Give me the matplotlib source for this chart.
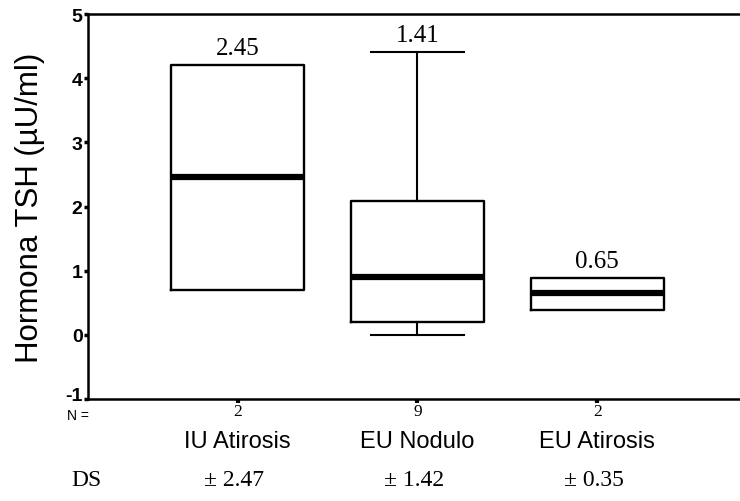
import matplotlib
matplotlib.use("Agg")
import matplotlib.pyplot as plt
from matplotlib.transforms import ScaledTranslation

categories = ["IU Atirosis", "EU Nodulo", "EU Atirosis"]
n_values = [2, 9, 2]
medians = [2.46, 0.90, 0.65]
q1 = [0.70, 0.20, 0.39]
q3 = [4.21, 2.09, 0.89]
whisker_low = [0.70, 0.00, 0.39]
whisker_high = [4.21, 4.41, 0.89]
mean_labels = ["2.45", "1.41", "0.65"]
sd_labels = ["2.47", "1.42", "0.35"]
yticks = [-1, 0, 1, 2, 3, 4, 5]

positions = [1, 2, 3]

fig = plt.figure(figsize=(7.4, 5.02), dpi=100)
ax = fig.add_axes([0.119, 0.203, 0.881, 0.767])

stats = []
for i in range(len(categories)):
    stats.append(dict(med=medians[i], q1=q1[i], q3=q3[i],
                      whislo=whisker_low[i], whishi=whisker_high[i],
                      label=categories[i]))

bp = ax.bxp(stats, positions=positions, widths=0.74, showfliers=False,
            patch_artist=False, capwidths=0.52,
            boxprops=dict(color="black", linewidth=1.7),
            medianprops=dict(color="black", linewidth=4.5, solid_capstyle="butt"),
            whiskerprops=dict(color="black", linewidth=1.5),
            capprops=dict(color="black", linewidth=1.5))

# hide caps/whiskers that coincide with the box (n = 2 groups)
for i in range(len(categories)):
    for j, (lo_or_hi, edge) in enumerate([(whisker_low[i], q1[i]), (whisker_high[i], q3[i])]):
        if lo_or_hi == edge:
            bp["caps"][2 * i + j].set_visible(False)
            bp["whiskers"][2 * i + j].set_visible(False)

# mean labels above the highest element
for i in range(len(categories)):
    top = max(q3[i], whisker_high[i])
    ax.annotate(mean_labels[i], (positions[i], top), xytext=(0, 4),
                textcoords="offset points", ha="center", va="bottom",
                fontsize=18, family="Liberation Serif")

ax.set_xlim(0.169, 3.794)
ax.set_ylim(-1, 5)
ax.set_yticks(yticks)
ax.set_yticklabels([str(t) for t in yticks], fontsize=14, fontweight="bold",
                   family="Liberation Sans")
ax.tick_params(axis="y", length=3, width=2.5, pad=1, direction="out")
# lift the lowest tick label slightly, as in the original
low_label = ax.get_yticklabels()[0]
low_label.set_transform(low_label.get_transform() +
                        ScaledTranslation(0, 4 / 72, fig.dpi_scale_trans))
ax.set_xticks(positions)
ax.set_xticklabels([str(n) for n in n_values], fontsize=12.5, family="Liberation Serif")
ax.tick_params(axis="x", length=3, width=3, pad=0, direction="out")

ax.spines["right"].set_visible(False)
for s in ["left", "bottom", "top"]:
    ax.spines[s].set_linewidth(1.8)

ax.set_ylabel("Hormona TSH (µU/ml)", fontsize=22.5, family="Liberation Sans")
ax.yaxis.set_label_coords(-0.066, 0.5)

trans = ax.get_xaxis_transform()
ax.text(-0.032, -0.024, "N =", transform=ax.transAxes, ha="left", va="top",
        fontsize=10, family="Liberation Sans")
for i in range(len(categories)):
    ax.text(positions[i], -0.11, categories[i], transform=trans, ha="center",
            va="center", fontsize=17, family="Liberation Sans")
    ax.text(positions[i] - 0.02, -0.21, "± " + sd_labels[i], transform=trans,
            ha="center", va="center", fontsize=17, family="Liberation Serif")
ax.text(-0.025, -0.21, "DS", transform=ax.transAxes, ha="left", va="center",
        fontsize=17, family="Liberation Serif")

fig.savefig("out.png", dpi=100)
